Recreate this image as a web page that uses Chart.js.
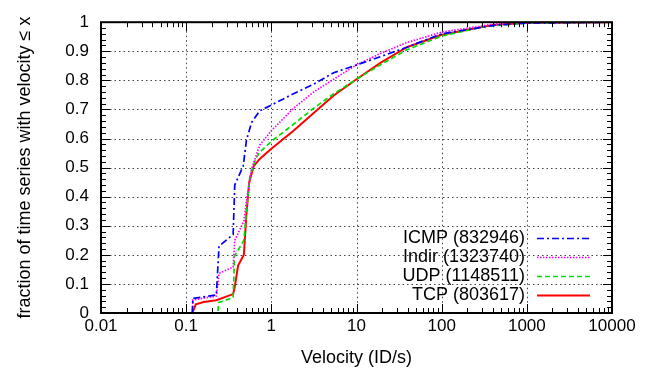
<!DOCTYPE html>
<html>
<head>
<meta charset="utf-8">
<script src="https://cdn.jsdelivr.net/npm/chart.js@4"></script>
<style>
  html, body { margin: 0; padding: 0; background: #fff; }
  #wrap { width: 659px; height: 375px; }
</style>
</head>
<body>
<div id="wrap"><canvas id="myChart" width="659" height="375"></canvas></div>
<script>
// values
const xTicks = [0.01, 0.1, 1, 10, 100, 1000, 10000];
const xTickLabels = ['0.01', '0.1', '1', '10', '100', '1000', '10000'];
const yTicks = [0, 0.1, 0.2, 0.3, 0.4, 0.5, 0.6, 0.7, 0.8, 0.9, 1];
const yTickLabels = ['0', '0.1', '0.2', '0.3', '0.4', '0.5', '0.6', '0.7', '0.8', '0.9', '1'];

const seriesNames = ['ICMP (832946)', 'Indir (1323740)', 'UDP (1148511)', 'TCP (803617)'];

const icmpX = [0.118, 0.12, 0.226, 0.243, 0.356, 0.372, 0.467, 0.51, 0.586, 0.73, 1.0, 1.82, 3.14, 5.4, 10, 18.9, 39, 100, 430, 1000, 10000];
const icmpY = [0, 0.05, 0.062, 0.23, 0.27, 0.44, 0.505, 0.594, 0.655, 0.695, 0.715, 0.754, 0.787, 0.826, 0.853, 0.881, 0.914, 0.96, 0.99, 0.997, 1];

const indirX = [0.118, 0.12, 0.226, 0.243, 0.356, 0.372, 0.476, 0.51, 0.586, 0.73, 1.0, 1.82, 3.14, 5.4, 10, 18.9, 39, 100, 400, 1000, 10000];
const indirY = [0, 0.045, 0.058, 0.136, 0.158, 0.25, 0.316, 0.385, 0.495, 0.577, 0.627, 0.704, 0.76, 0.804, 0.853, 0.892, 0.93, 0.966, 0.993, 0.998, 1];

const udpX = [0.13, 0.236, 0.24, 0.356, 0.37, 0.476, 0.51, 0.56, 0.66, 0.73, 1.0, 1.82, 3.14, 5.4, 10, 18.9, 39, 100, 316, 1000, 10000];
const udpY = [0, 0, 0.036, 0.053, 0.196, 0.25, 0.35, 0.47, 0.533, 0.553, 0.59, 0.649, 0.704, 0.754, 0.804, 0.853, 0.905, 0.952, 0.985, 0.997, 1];

const tcpX = [0.118, 0.13, 0.16, 0.226, 0.356, 0.372, 0.407, 0.476, 0.51, 0.55, 0.62, 0.73, 1.0, 1.82, 3.14, 5.4, 10, 18.9, 39, 100, 400, 1000, 10000];
const tcpY = [0, 0.03, 0.038, 0.044, 0.065, 0.09, 0.163, 0.2, 0.34, 0.45, 0.505, 0.53, 0.565, 0.627, 0.688, 0.748, 0.804, 0.859, 0.914, 0.957, 0.99, 0.998, 1];

const colors = {
  icmp: '#0000ff',
  indir: '#ff00ff',
  udp: '#00dd00',
  tcp: '#ff0000',
};

const FONT = '"Liberation Sans", Arial, sans-serif';

const pts = (xs, ys) => xs.map((x, i) => ({ x: x, y: ys[i] }));

// gnuplot-like frame: dotted grid, inward ticks on all sides, legend inside
const gnuplotFrame = {
  id: 'gnuplotFrame',
  beforeDatasetsDraw(chart) {
    const { ctx, chartArea: a, scales: { x, y } } = chart;
    ctx.save();
    ctx.strokeStyle = '#444';
    ctx.lineWidth = 1;
    ctx.setLineDash([1.5, 3]);
    xTicks.slice(1, -1).forEach((v) => {
      const px = Math.round(x.getPixelForValue(v)) + 0.5;
      ctx.beginPath(); ctx.moveTo(px, a.top); ctx.lineTo(px, a.bottom); ctx.stroke();
    });
    yTicks.slice(1, -1).forEach((v) => {
      const py = Math.round(y.getPixelForValue(v)) + 0.5;
      ctx.beginPath(); ctx.moveTo(a.left, py); ctx.lineTo(a.right, py); ctx.stroke();
    });
    ctx.restore();
  },
  afterDatasetsDraw(chart) {
    const { ctx, chartArea: a, scales: { x, y } } = chart;
    ctx.save();
    ctx.strokeStyle = '#000';
    ctx.setLineDash([]);
    ctx.lineWidth = 1;
    // x ticks (major + log minor)
    for (let d = 0; d < xTicks.length; d++) {
      for (let m = 1; m <= 9; m++) {
        const v = xTicks[d] * m;
        if (v > 10000) break;
        const px = Math.round(x.getPixelForValue(v)) + 0.5;
        const len = m === 1 ? 9 : 5;
        ctx.beginPath();
        ctx.moveTo(px, a.bottom); ctx.lineTo(px, a.bottom - len);
        ctx.moveTo(px, a.top); ctx.lineTo(px, a.top + len);
        ctx.stroke();
      }
    }
    // y ticks, minor every 0.02
    for (let i = 0; i <= 50; i++) {
      const py = Math.round(y.getPixelForValue(i / 50)) + 0.5;
      const len = i % 5 === 0 ? 9 : 5;
      ctx.beginPath();
      ctx.moveTo(a.left, py); ctx.lineTo(a.left + len, py);
      ctx.moveTo(a.right, py); ctx.lineTo(a.right - len, py);
      ctx.stroke();
    }
    ctx.lineWidth = 2;
    ctx.strokeRect(a.left, a.top, a.right - a.left, a.bottom - a.top);

    // legend
    ctx.font = '18px ' + FONT;
    ctx.textAlign = 'right';
    ctx.textBaseline = 'middle';
    ctx.fillStyle = '#000';
    const rowY = [238, 257, 276, 295];
    chart.data.datasets.forEach((ds, i) => {
      ctx.fillText(ds.label, 525, rowY[i]);
      ctx.strokeStyle = ds.borderColor;
      ctx.lineWidth = ds.borderWidth;
      ctx.setLineDash(ds.borderDash || []);
      ctx.beginPath(); ctx.moveTo(537, rowY[i] + 0.5); ctx.lineTo(590, rowY[i] + 0.5); ctx.stroke();
    });
    ctx.restore();
  },
};

const ctx = document.getElementById('myChart').getContext('2d');

const data = {
  datasets: [
    {
      label: seriesNames[0],
      data: pts(icmpX, icmpY),
      borderColor: colors.icmp,
      borderWidth: 1.7,
      borderDash: [7, 3, 2, 3],
    },
    {
      label: seriesNames[1],
      data: pts(indirX, indirY),
      borderColor: colors.indir,
      borderWidth: 1.7,
      borderDash: [1.5, 1.5],
    },
    {
      label: seriesNames[2],
      data: pts(udpX, udpY),
      borderColor: colors.udp,
      borderWidth: 1.7,
      borderDash: [5, 3],
    },
    {
      label: seriesNames[3],
      data: pts(tcpX, tcpY),
      borderColor: colors.tcp,
      borderWidth: 2,
    },
  ],
};

const config = {
  type: 'line',
  data: data,
  options: {
    responsive: false,
    animation: false,
    layout: { padding: { top: 11, right: 47, left: 0, bottom: 0 } },
    elements: { point: { radius: 0 }, line: { tension: 0, fill: false } },
    plugins: { legend: { display: false }, tooltip: { enabled: false } },
    scales: {
      x: {
        type: 'logarithmic',
        min: 0.01,
        max: 10000,
        grid: { display: false, drawTicks: false },
        border: { display: false },
        afterBuildTicks: (s) => { s.ticks = xTicks.map((v) => ({ value: v })); },
        afterFit: (s) => { s.height = 62; },
        ticks: {
          autoSkip: false,
          maxRotation: 0,
          padding: 3,
          color: '#000',
          font: { family: FONT, size: 17 },
          callback: (v) => xTickLabels[xTicks.indexOf(v)],
        },
        title: {
          display: true,
          text: 'Velocity (ID/s)',
          color: '#000',
          font: { family: FONT, size: 18 },
          padding: { top: 0, bottom: 6 },
        },
      },
      y: {
        min: 0,
        max: 1,
        grid: { display: false, drawTicks: false },
        border: { display: false },
        afterBuildTicks: (s) => { s.ticks = yTicks.map((v) => ({ value: v })); },
        afterFit: (s) => { s.width = 101; },
        ticks: {
          padding: 12,
          color: '#000',
          font: { family: FONT, size: 17 },
          callback: (v) => yTickLabels[yTicks.indexOf(v)],
        },
        title: {
          display: true,
          text: 'fraction of time series with velocity \u2264 x',
          color: '#000',
          font: { family: FONT, size: 18 },
          padding: { top: 14, bottom: 0 },
        },
      },
    },
  },
  plugins: [gnuplotFrame],
};

new Chart(ctx, config);
</script>
</body>
</html>
